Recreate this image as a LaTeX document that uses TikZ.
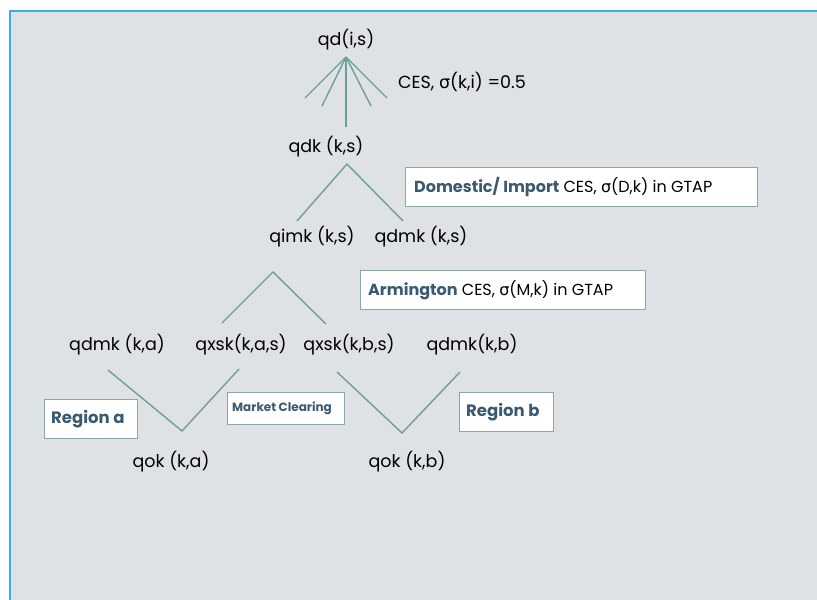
\documentclass[tikz,border=0pt]{standalone}
\usepackage{fontspec}
\setmainfont{Poppins}
\newfontfamily\gk{DejaVu Sans}
\definecolor{bggrey}{HTML}{DEE2E5}
\definecolor{frameblue}{HTML}{3AAEE6}
\definecolor{linecol}{HTML}{6E9E9C}
\definecolor{boxedge}{HTML}{8AA8A8}
\definecolor{boldtxt}{HTML}{3B5A70}
\tikzset{
  lbl/.style={inner sep=0pt, font=\fontsize{17.5}{20}\selectfont, text=black},
  infobox/.style={draw=boxedge, fill=white, line width=0.9pt, inner sep=0pt, anchor=north west},
  conn/.style={draw=linecol, line width=1.4pt},
}
\newcommand{\sg}{{\gk σ}}
\begin{document}
\begin{tikzpicture}[x=1pt,y=-1pt]
\useasboundingbox (0,0) rectangle (817,600);
\fill[white] (0,0) rectangle (817,600);
\fill[bggrey] (10,11) rectangle (817,600);
\draw[frameblue, line width=1.8pt] (10,600) -- (10,11) -- (817,11);

% top level
\node[lbl] (qd) at (346,40) {qd(i,s)};
\coordinate (apex) at (346,57);
\coordinate (f1) at (305,98);
\coordinate (f2) at (322,106);
\coordinate (f3) at (346,127);
\coordinate (f4) at (371,106);
\coordinate (f5) at (387,98);
\foreach \f in {f1,f2,f3,f4,f5} \draw[conn] (apex) -- (\f);
\node[lbl, anchor=west] (ces) at (398,82) {CES, \sg(k,i) =0.5};

\node[lbl] (qdk) at (326,147) {qdk (k,s)};

% domestic / import
\coordinate (t1) at (347,164);
\coordinate (t1l) at (297,221);
\coordinate (t1r) at (403,221);
\draw[conn] (t1l) -- (t1) -- (t1r);
\node[infobox, minimum width=352pt, minimum height=39pt] (dombox) at (405,167) {};
\node[lbl, anchor=west, font=\fontsize{16}{19}\selectfont] (domtxt) at ([xshift=9pt]dombox.west) {\textcolor{boldtxt}{\textbf{Domestic/ Import}} CES, \sg(D,k) in GTAP};

\node[lbl] (qimk) at (312,237) {qimk (k,s)};
\node[lbl] (qdmks) at (421,237) {qdmk (k,s)};

% Armington
\coordinate (t2) at (273,272);
\coordinate (t2l) at (222,323);
\coordinate (t2r) at (326,324);
\draw[conn] (t2l) -- (t2) -- (t2r);
\node[infobox, minimum width=285pt, minimum height=39pt] (armbox) at (360,270) {};
\node[lbl, anchor=west, font=\fontsize{16}{19}\selectfont] (armtxt) at ([xshift=8pt]armbox.west) {\textcolor{boldtxt}{\textbf{Armington}} CES, \sg(M,k) in GTAP};

% bottom row
\node[lbl] (qdmka) at (117,345) {qdmk (k,a)};
\node[lbl] (qxska) at (241,345) {qxsk(k,a,s)};
\node[lbl] (qxskb) at (349,345) {qxsk(k,b,s)};
\node[lbl] (qdmkb) at (472,345) {qdmk(k,b)};

% V a
\coordinate (va1) at (108,370);
\coordinate (vab) at (182,431);
\coordinate (va2) at (239,369);
\draw[conn] (va1) -- (vab) -- (va2);
% V b
\coordinate (vb1) at (337,372);
\coordinate (vbb) at (402,433);
\coordinate (vb2) at (460,372);
\draw[conn] (vb1) -- (vbb) -- (vb2);

\node[infobox, minimum width=93pt, minimum height=39pt] (rega) at (44,399) {};
\node[lbl, anchor=west, font=\fontsize{16.5}{19}\selectfont\bfseries, text=boldtxt] (regatxt) at ([xshift=7pt]rega.west) {Region a};
\node[infobox, minimum width=117pt, minimum height=32pt] (mkt) at (227,392) {};
\node[lbl, anchor=west, font=\fontsize{12}{14}\selectfont\bfseries, text=boldtxt] (mkttxt) at ([xshift=5pt]mkt.west) {Market Clearing};
\node[infobox, minimum width=94pt, minimum height=39pt] (regb) at (459,392) {};
\node[lbl, anchor=west, font=\fontsize{16.5}{19}\selectfont\bfseries, text=boldtxt] (regbtxt) at ([xshift=7pt]regb.west) {Region b};

\node[lbl] (qoka) at (171,462) {qok (k,a)};
\node[lbl] (qokb) at (407,462) {qok (k,b)};
\end{tikzpicture}
\end{document}
